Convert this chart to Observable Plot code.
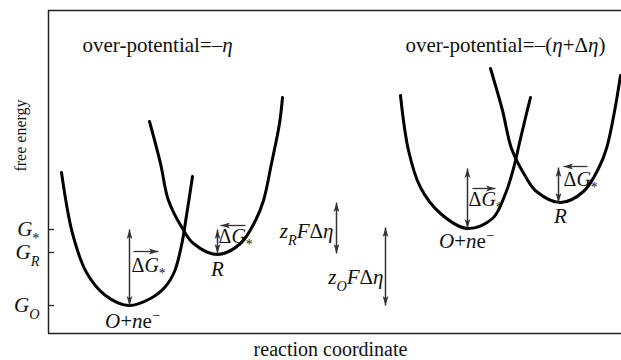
<!DOCTYPE html>
<html><head><meta charset="utf-8">
<script src="https://cdn.jsdelivr.net/npm/d3@7"></script>
<script src="https://cdn.jsdelivr.net/npm/@observablehq/plot@0.6"></script>
<style>
body{margin:0;background:#fff}
svg text{font-family:"Liberation Serif","Times New Roman",serif}
</style></head><body><div id="chart"></div>
<script>
// ---- data (x = reaction coordinate, G = free energy) ----
const curveOleft  = [[61,161],[72,100],[86,61],[105,38],[128,28],[150,35],[165,47],[174,62],[181,88],[186,118],[192,157]];
const curveRleft  = [[149,212],[160,170],[168,133],[182,105],[193,90],[217,79],[240,90],[255,113],[263,133],[271,170],[279,210],[282,236]];
const curveOright = [[400,238],[408,183],[420,146],[440,120],[467,105],[492,115],[505,140],[513,165],[520,195],[526,220],[530,236]];
const curveRright = [[490,265],[502,223],[511,185],[525,157],[536,142],[560,131],[583,142],[598,165],[606,185],[614,222],[620,258]];

const yTickValues = [104, 81, 28];
const yTickLabels = ["<i>G</i><sub>*</sub>", "<i>G</i><sub><i>R</i></sub>", "<i>G</i><sub><i>O</i></sub>"];

// double-headed vertical arrows
const vArrowX   = [129, 217, 336, 385, 467, 558];
const vArrowTop = [104, 104, 131, 106, 165, 166];
const vArrowBot = [28, 80, 80, 28, 105, 131];

// small direction arrows over ΔG
const hArrowX1 = [133, 245, 472, 587];
const hArrowX2 = [158, 220, 495, 563];
const hArrowG  = [82, 108, 145, 167];

// labels: ΔG* (left-aligned)
const dgText = "Δ<i>G</i><sub>*</sub>";
const dgX = [131, 218, 468, 563];
const dgG = [68, 97, 134, 154];

// centred state labels
const stateText = ["<i>R</i>", "<i>R</i>", "<i>O</i>+<i>n</i>e<sup>−</sup>", "<i>O</i>+<i>n</i>e<sup>−</sup>"];
const stateX = [217, 560, 132, 466];
const stateG = [64, 117, 12, 92];

const zText = ["<i>z</i><sub><i>R</i></sub><i>F</i>Δ<i>η</i>", "<i>z</i><sub><i>O</i></sub><i>F</i>Δ<i>η</i>"];
const zX = [333, 383];
const zG = [102, 56];

const titleText = ["over-potential=–<i>η</i>", "over-potential=–(<i>η</i>+Δ<i>η</i>)"];
const titleX = [82, 405];
const titleG = [288, 288];

const yLabel = "free energy";
const yLabelG = 198;
const xLabel = "reaction coordinate";
const xLabelX = 330;

// ---- helpers ----
const NS = "http://www.w3.org/2000/svg";
// narrow filled arrowhead, tip at origin, pointing up
const headSymbol = {
  draw(ctx) {
    ctx.moveTo(0, 0);
    ctx.lineTo(2.9, 9.5);
    ctx.lineTo(0, 7.3);
    ctx.lineTo(-2.9, 9.5);
    ctx.closePath();
  }
};

function richify(svg) {
  svg.querySelectorAll("text").forEach(t => {
    const s = t.textContent;
    if (!/<\/?(i|sub|sup)>/.test(s)) return;
    const fs = parseFloat(getComputedStyle(t).fontSize) || 16;
    while (t.firstChild) t.removeChild(t.firstChild);
    let italic = false, pos = 0, cur = 0;
    s.split(/(<\/?(?:i|sub|sup)>)/).forEach(tok => {
      if (!tok) return;
      if (tok === "<i>") { italic = true; return; }
      if (tok === "</i>") { italic = false; return; }
      if (tok === "<sub>") { pos = 1; return; }
      if (tok === "<sup>") { pos = -1; return; }
      if (tok === "</sub>" || tok === "</sup>") { pos = 0; return; }
      const ts = document.createElementNS(NS, "tspan");
      ts.textContent = tok;
      if (italic) ts.setAttribute("font-style", "italic");
      let target = 0;
      if (pos === 1) { ts.setAttribute("font-size", (fs * 0.68) + "px"); target = fs * 0.3; }
      if (pos === -1) { ts.setAttribute("font-size", (fs * 0.68) + "px"); target = -fs * 0.38; }
      if (target !== cur) { ts.setAttribute("dy", (target - cur) + "px"); cur = target; }
      t.appendChild(ts);
    });
  });
}

const W = 621, H = 360, mL = 48, mT = 10, mB = 27;
const curves = [curveOleft, curveRleft, curveOright, curveRright];
const heads = [
  ...vArrowX.map((x, i) => ({x, g: vArrowTop[i], r: 0})),
  ...vArrowX.map((x, i) => ({x, g: vArrowBot[i], r: 180})),
  ...hArrowX2.map((x, i) => ({x, g: hArrowG[i], r: x > hArrowX1[i] ? 90 : -90}))
];
const ink = "#111";

const chart = Plot.plot({
  width: W, height: H,
  marginLeft: mL, marginRight: 0, marginTop: mT, marginBottom: mB,
  x: {domain: [48, 621], axis: null},
  y: {domain: [0, 323], axis: null},
  style: {fontFamily: "Liberation Serif", background: "#fff"},
  marks: [
    Plot.ruleX([48], {stroke: "#222", strokeWidth: 1.5}),
    Plot.ruleY([0, 323], {stroke: "#222", strokeWidth: 1.5}),
    Plot.axisY({ticks: yTickValues, tickFormat: d => yTickLabels[yTickValues.indexOf(d)], tickSize: 0, tickPadding: 9, label: null, fontSize: 21, color: ink}),
    Plot.tickY(yTickValues, {y: d => d, insetRight: W - mL - 6, stroke: "#222", strokeWidth: 1.3}),
    Plot.text([xLabel], {x: [xLabelX], frameAnchor: "bottom", lineAnchor: "top", dy: 8, fontSize: 20, fill: ink}),
    Plot.text([yLabel], {frameAnchor: "left", y: [yLabelG], rotate: -90, textAnchor: "middle", dx: -28, fontSize: 16, fill: ink}),
    ...curves.map(c => Plot.line(c, {x: d => d[0], y: d => d[1], curve: "catmull-rom", stroke: "#000", strokeWidth: 3})),
    Plot.link(vArrowX, {x1: d => d, x2: d => d, y1: (d, i) => vArrowTop[i], y2: (d, i) => vArrowBot[i],
      stroke: "#333", strokeWidth: 1.5}),
    Plot.link(hArrowX1, {x1: d => d, x2: (d, i) => hArrowX2[i], y1: (d, i) => hArrowG[i], y2: (d, i) => hArrowG[i],
      stroke: "#333", strokeWidth: 1.3}),
    Plot.dot(heads, {x: "x", y: "g", rotate: "r", symbol: headSymbol, r: 4, fill: "#333", stroke: "none"}),
    Plot.text(dgX, {x: d => d, y: (d, i) => dgG[i], text: () => dgText, textAnchor: "start", fontSize: 20, fill: ink}),
    Plot.text(stateText, {x: (d, i) => stateX[i], y: (d, i) => stateG[i], text: d => d, textAnchor: "middle", fontSize: 21, fill: ink}),
    Plot.text(zText, {x: (d, i) => zX[i], y: (d, i) => zG[i], text: d => d, textAnchor: "end", fontSize: 21, fill: ink}),
    Plot.text(titleText, {x: (d, i) => titleX[i], y: (d, i) => titleG[i], text: d => d, textAnchor: "start", fontSize: 21, fill: ink})
  ]
});
document.getElementById("chart").appendChild(chart);
richify(chart);
</script></body></html>
